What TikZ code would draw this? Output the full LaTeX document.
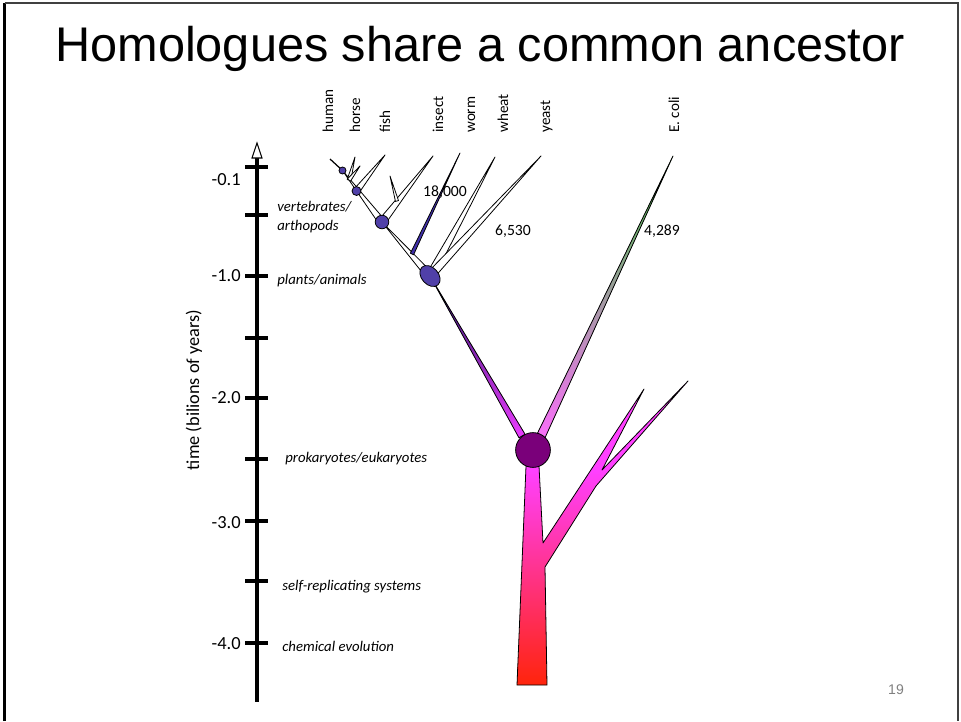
\documentclass[tikz,border=0pt]{standalone}
\usepackage{fontspec}
\setmainfont{Carlito}
\newfontfamily\headfont{Liberation Sans}
\usetikzlibrary{calc,shapes.geometric,backgrounds}

\definecolor{budblue}{RGB}{80,64,168}
\definecolor{wormblue}{RGB}{64,48,170}
\definecolor{rootpurple}{RGB}{122,0,122}
\definecolor{trunkmag}{RGB}{255,64,255}
\definecolor{trunkpink}{RGB}{255,56,185}
\definecolor{trunkred}{RGB}{255,36,10}
\definecolor{stemblue}{RGB}{80,40,200}
\definecolor{stemmag}{RGB}{235,60,255}
\definecolor{colitop}{RGB}{70,200,70}
\definecolor{colimid}{RGB}{185,185,185}
\definecolor{colibot}{RGB}{250,110,250}

% outline of the trunk and its old branch
\newcommand{\trunkoutline}{(517,685) -- (526,466) -- (539,466) -- (543,543) -- (644,389) -- (602,470)
  -- (688,381) -- (596,486) -- (545,567) -- (547,685) -- cycle}

% wedge-shaped limb: [fill options]{base}{tip}{half width}
\newcommand{\limb}[4][fill=white]{%
  \filldraw[limb,#1] (#3) -- ($(#2)!#4!90:(#3)$) -- ($(#2)!#4!-90:(#3)$) -- cycle;}

\begin{document}
\begin{tikzpicture}[
    x=0.02cm, y=-0.02cm,
    limb/.style={draw=black, line width=0.45pt, line join=round},
    spine/.style={line width=0.7pt},
    bud/.style={circle, draw=black, line width=0.45pt, fill=budblue, inner sep=0pt},
    axisline/.style={line width=2.8pt},
    tickmark/.style={line width=2pt},
    taxon/.style={rotate=90, anchor=base west, inner sep=0pt, font=\fontsize{8.6}{10}\selectfont},
    yearlabel/.style={anchor=east, inner sep=0pt, font=\fontsize{10.5}{12}\selectfont},
    eventlabel/.style={anchor=west, inner sep=0pt, align=left, font=\fontsize{8.4}{11.3}\selectfont\itshape},
    countlabel/.style={inner sep=0pt, font=\fontsize{8.9}{10}\selectfont}
]
\useasboundingbox (0,0) rectangle (961,721);

% Frame
\draw[line width=1.7pt] (4.5,721) -- (4.5,3);
\draw[line width=0.9pt, black!75] (4.5,3) -- (958,3) -- (958,721);

% Title
\node[font=\headfont\fontsize{27.7}{33}\selectfont, anchor=base, inner sep=0pt] (title) at (480,61) {Homologues share a common ancestor};

% Time axis
\coordinate (axtop) at (257,158);
\coordinate (axbot) at (257,702);
\draw[axisline] (axtop) -- (axbot);
\draw[line width=0.6pt, fill=white] ($(axtop)+(0,-15)$) -- ($(axtop)+(5,0)$) -- ($(axtop)+(-5,0)$) -- cycle;
\foreach \y in {167,215,276,338,398,459,521,581,643}
  \draw[tickmark] (245,\y) -- (268,\y);
\foreach \y/\t [count=\i] in {180/-0.1, 276/-1.0, 398/-2.0, 523/-3.0, 644/-4.0}
  \node[yearlabel] (year\i) at (241,\y) {\t};
\node[rotate=90, anchor=base, inner sep=0pt, font=\fontsize{10.4}{12}\selectfont] (timelabel) at (199,390) {time (bilions of years)};

% Events
\node[eventlabel] (vertarth) at (277,217) {vertebrates/\\arthopods};
\node[eventlabel] (plantanim) at (277,281) {plants/animals};
\node[eventlabel] (prokeuk) at (285,459) {prokaryotes/eukaryotes};
\node[eventlabel] (selfrep) at (282,587) {self-replicating systems};
\node[eventlabel] (chemevo) at (282,646) {chemical evolution};

% Taxa
\node[taxon] (human) at (333,133) {human};
\node[taxon] (horse) at (360,133) {horse};
\node[taxon] (fish) at (390,133) {fish};
\node[taxon] (insect) at (443,133) {insect};
\node[taxon] (worm) at (475,133) {worm};
\node[taxon] (wheat) at (508,133) {wheat};
\node[taxon] (yeast) at (550,133) {yeast};
\node[taxon] (ecoli) at (679,133) {E. coli};

% Gene counts
\node[countlabel] (count1) at (445,192) {18,000};
\node[countlabel] (count2) at (513,231) {6,530};
\node[countlabel] (count3) at (662,231) {4,289};

% Branch points
\node[bud, minimum size=4pt] (hum) at (342.5,170.5) {};
\node[bud, minimum size=5.1pt] (mam) at (356.5,191) {};
\node[bud, minimum size=7.7pt] (vert) at (382,222) {};
\node[bud, ellipse, minimum width=13.6pt, minimum height=9.6pt, rotate=-48] (euk) at (430,276) {};
\node[circle, draw=black, line width=0.45pt, fill=rootpurple, minimum size=19.8pt, inner sep=0pt] (root) at (533,450) {};

% Tips
\coordinate (humantip) at (330,159);
\coordinate (horsetip) at (355,157);
\coordinate (horsetwin) at (360,166);
\coordinate (fishtip) at (385,155);
\coordinate (spiketip) at (390,176);
\coordinate (insecttip) at (433,156);
\coordinate (wormtip) at (460,153);
\coordinate (wheattip) at (495,157);
\coordinate (yeasttip) at (541,156);
\coordinate (colitip) at (673,156);

\coordinate (horsefork) at (349,180);
\coordinate (spikebase) at (397,201);
\coordinate (wormbase) at (412,254);
\coordinate (stembase) at (522,436);
\coordinate (colibase) at (541,436);

\begin{pgfonlayer}{background}
% trunk and old branch
\begin{scope}
  \clip \trunkoutline;
  \fill[trunkmag] (505,375) rectangle (700,472);
  \shade[top color=trunkmag, middle color=trunkpink, bottom color=trunkred] (505,470) rectangle (700,686);
\end{scope}
\draw[limb] \trunkoutline;

% stems from the root
\limb[top color=stemblue!55!black, middle color=stemblue, bottom color=stemmag]{stembase}{euk.center}{2pt}
\limb[top color=colitop, middle color=colimid, bottom color=colibot]{colibase}{colitip}{2.5pt}

% eukaryote limbs
\limb{euk.center}{vert.center}{2.2pt}
\limb{euk.center}{wheattip}{2.4pt}
\limb{euk.center}{yeasttip}{2.4pt}
\limb[fill=wormblue]{wormbase}{wormtip}{1pt}
\limb{vert.center}{hum.center}{2pt}
\limb{vert.center}{insecttip}{2.2pt}
\limb{spikebase}{spiketip}{0.9pt}
\limb{mam.center}{fishtip}{1.8pt}
\limb{horsefork}{horsetip}{1.1pt}
\limb{horsefork}{horsetwin}{1.1pt}
\draw[spine] (humantip) -- (hum.center);
\end{pgfonlayer}

% Page number
\node[font=\headfont\fontsize{8}{10}\selectfont, text=black!50, inner sep=0pt] (pagenum) at (896,690) {19};
\end{tikzpicture}
\end{document}
